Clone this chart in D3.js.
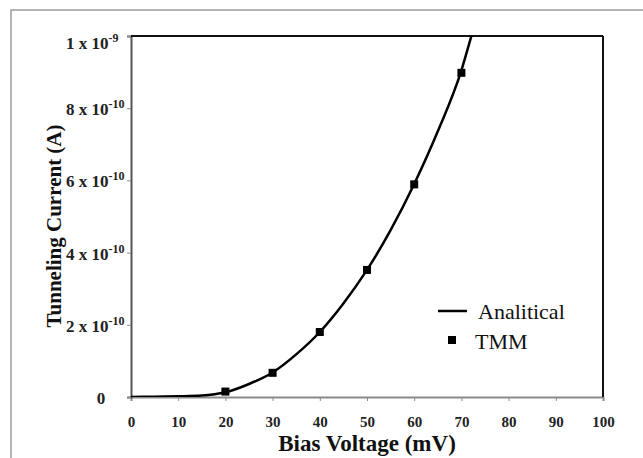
<html>
<head>
<style>
body { margin: 0; background: white; }
</style>
</head>
<body>
<div id="plot"></div>
<script src="https://d3js.org/d3.v7.min.js"></script>
<script type="text/javascript">
// analytical curve (mV, units of 1e-10 A)
var curveV = [0, 5, 10, 15, 20, 25, 30, 35, 40, 45, 50, 55, 60, 65, 70, 72, 74];
var curveI = [0, 0.01, 0.02, 0.04, 0.13, 0.36, 0.68, 1.18, 1.80, 2.59, 3.52, 4.62, 5.90, 7.36, 9.05, 9.95, 10.9];
// TMM points
var tmmV = [20, 30, 40, 50, 60, 70];
var tmmI = [0.15, 0.67, 1.80, 3.52, 5.89, 8.98];
var xTicks = [0, 10, 20, 30, 40, 50, 60, 70, 80, 90, 100];
var yTicks = [0, 2, 4, 6, 8, 10];
var yTickBase = ["0", "2 x 10", "4 x 10", "6 x 10", "8 x 10", "1 x 10"];
var yTickExp = ["", "-10", "-10", "-10", "-10", "-9"];

var W = 643, H = 458;
var margin = {top: 36, left: 131, right: 40, bottom: 61};
var serif = '"Liberation Serif", "Times New Roman", serif';

var svg = d3.select("#plot").append("svg")
  .attr("width", W).attr("height", H)
  .style("font-family", serif);

// outer frame (only top/left visible)
svg.append("rect")
  .attr("x", 11).attr("y", 10)
  .attr("width", W + 20).attr("height", H + 20)
  .attr("fill", "none").attr("stroke", "#9a9a9a").attr("stroke-width", 1.5);

var x = d3.scaleLinear().domain([0, 100]).range([margin.left, W - margin.right]);
var y = d3.scaleLinear().domain([0, 10]).range([H - margin.bottom, margin.top]);

svg.append("clipPath").attr("id", "clip")
  .append("rect")
  .attr("x", x(0)).attr("y", y(10))
  .attr("width", x(100) - x(0)).attr("height", y(0) - y(10));

// x axis
var xAxis = svg.append("g")
  .attr("transform", "translate(0," + y(0) + ")")
  .call(d3.axisBottom(x).tickValues(xTicks).tickSize(4).tickPadding(15));
xAxis.attr("font-family", serif);
xAxis.select(".domain").attr("stroke", "#8a8a8a").attr("stroke-width", 2);
xAxis.selectAll(".tick line").attr("stroke", "#8a8a8a");
xAxis.selectAll(".tick text")
  .style("font-family", serif).style("font-weight", "bold")
  .style("font-size", "15px").attr("fill", "#222");

// y axis
var yAxis = svg.append("g")
  .attr("transform", "translate(" + x(0) + ",0)")
  .call(d3.axisLeft(y).tickValues(yTicks).tickSize(4).tickFormat(""));
yAxis.select(".domain").attr("stroke", "#555").attr("stroke-width", 2);
yAxis.selectAll(".tick line").attr("stroke", "#8a8a8a");

yTicks.forEach(function(t, i) {
  var top = (i == yTicks.length - 1);
  var tx = svg.append("text")
    .attr("x", i == 0 ? 101 : 66)
    .attr("y", y(t) + (top ? 13 : 7))
    .attr("text-anchor", i == 0 ? "middle" : "start")
    .style("font-family", serif)
    .style("font-weight", "bold").style("font-size", "17px")
    .attr("fill", "#222");
  tx.append("tspan").text(yTickBase[i]);
  if (yTickExp[i]) {
    tx.append("tspan").attr("dy", -7).style("font-size", "12px").text(yTickExp[i]);
  }
});

// top and right border
svg.append("line")
  .attr("x1", x(0)).attr("x2", x(100)).attr("y1", y(10)).attr("y2", y(10))
  .attr("stroke", "#111").attr("stroke-width", 2);
svg.append("line")
  .attr("x1", x(100)).attr("x2", x(100)).attr("y1", y(10)).attr("y2", y(0))
  .attr("stroke", "#111").attr("stroke-width", 2);

// analytical curve
var line = d3.line()
  .x(function(d, i) { return x(curveV[i]); })
  .y(function(d, i) { return y(curveI[i]); })
  .curve(d3.curveMonotoneX);
svg.append("path")
  .datum(curveV)
  .attr("clip-path", "url(#clip)")
  .attr("d", line)
  .attr("fill", "none").attr("stroke", "#000").attr("stroke-width", 2.5);

// TMM markers
svg.selectAll("rect.tmm")
  .data(tmmV)
  .enter().append("rect")
  .attr("class", "tmm")
  .attr("x", function(d) { return x(d) - 4; })
  .attr("y", function(d, i) { return y(tmmI[i]) - 4; })
  .attr("width", 8).attr("height", 8)
  .attr("fill", "#000");

// axis titles
svg.append("text")
  .attr("x", x(50)).attr("y", 451)
  .attr("text-anchor", "middle")
  .style("font-family", serif)
  .style("font-weight", "bold").style("font-size", "23px")
  .attr("fill", "#111")
  .text("Bias Voltage (mV)");

svg.append("text")
  .attr("transform", "translate(61,226) rotate(-90)")
  .attr("text-anchor", "middle")
  .style("font-family", serif)
  .style("font-weight", "bold").style("font-size", "21px")
  .attr("fill", "#111")
  .text("Tunneling Current (A)");

// legend
svg.append("line")
  .attr("x1", 438).attr("x2", 467).attr("y1", 311).attr("y2", 311)
  .attr("stroke", "#000").attr("stroke-width", 2.5);
svg.append("text")
  .attr("x", 478).attr("y", 319)
  .style("font-family", serif)
  .style("font-size", "22px").attr("fill", "#111")
  .text("Analitical");
svg.append("rect")
  .attr("x", 448).attr("y", 336).attr("width", 8).attr("height", 8)
  .attr("fill", "#000");
svg.append("text")
  .attr("x", 475).attr("y", 349)
  .style("font-family", serif)
  .style("font-size", "22px").attr("fill", "#111")
  .text("TMM");
</script>
</body>
</html>
